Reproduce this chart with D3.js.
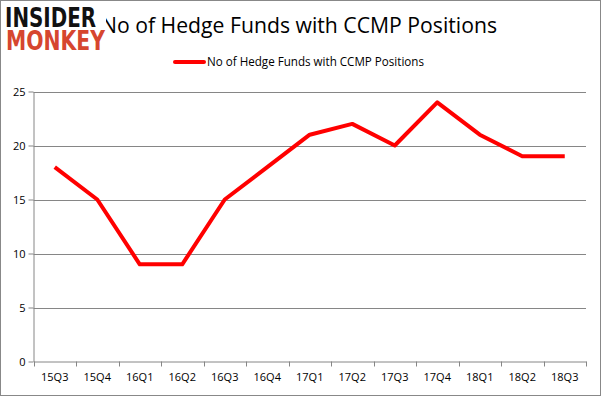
<!DOCTYPE html>
<meta charset='utf-8'>
<style>
    body { margin: 0; background: #fff; }
    text { font-family: 'Open Sans', 'DejaVu Sans', sans-serif; fill: #000; }
    .grid line { stroke: #868686; stroke-width: 1; }
    .axis path, .axis line { stroke: #868686; }
</style>

<svg width="601" height="396"></svg>
<script src="https://d3js.org/d3.v7.min.js"></script>

<script>

var quarters = ['15Q3', '15Q4', '16Q1', '16Q2', '16Q3', '16Q4', '17Q1',
                '17Q2', '17Q3', '17Q4', '18Q1', '18Q2', '18Q3'];
var funds = [18, 15, 9, 9, 15, 18, 21, 22, 20, 24, 21, 19, 19];
var yTicks = [0, 5, 10, 15, 20, 25];
var seriesName = 'No of Hedge Funds with CCMP Positions';

var svg = d3.select('svg'),
    width = +svg.attr('width'),
    height = +svg.attr('height');

var plotLeft = 33.5, plotRight = 586, plotTop = 91.5, plotBottom = 361.5;

var x = d3.scaleBand()
    .domain(quarters)
    .range([plotLeft, plotRight]);

var y = d3.scaleLinear()
    .domain([0, 25])
    .range([plotBottom, plotTop]);

// outer frame
svg.append('rect')
    .attr('x', 0.5).attr('y', 0.5)
    .attr('width', width - 1).attr('height', height - 1)
    .attr('fill', '#fff')
    .attr('stroke', '#888');

// gridlines
svg.append('g')
    .attr('class', 'grid')
  .selectAll('line')
  .data(yTicks.filter(function(d) { return d > 0; }))
  .enter().append('line')
    .attr('x1', plotLeft).attr('x2', plotRight)
    .attr('y1', function(d) { return Math.round(y(d)) + 0.5; })
    .attr('y2', function(d) { return Math.round(y(d)) + 0.5; });

// y axis
var yAxis = svg.append('g')
    .attr('class', 'axis')
    .attr('transform', 'translate(' + plotLeft + ',0)')
    .call(d3.axisLeft(y).tickValues(yTicks).tickSize(5).tickSizeOuter(0));
yAxis.selectAll('text').attr('x', -8).style('font-size', '11px');

// x axis
var xAxis = svg.append('g')
    .attr('class', 'axis')
    .attr('transform', 'translate(0,' + plotBottom + ')')
    .call(d3.axisBottom(x).tickSize(0).tickSizeOuter(0));
xAxis.selectAll('text').attr('y', 12).style('font-size', '11px');
xAxis.selectAll('.boundary')
    .data(quarters.concat(['end']))
    .enter().append('line')
    .attr('class', 'boundary')
    .attr('stroke', '#868686')
    .attr('x1', function(d, i) { return Math.round(plotLeft + i * x.step()) + 0.5; })
    .attr('x2', function(d, i) { return Math.round(plotLeft + i * x.step()) + 0.5; })
    .attr('y1', 0).attr('y2', 5);

// series line
var line = d3.line()
    .x(function(d, i) { return x(quarters[i]) + x.bandwidth() / 2; })
    .y(function(d) { return y(d); });

svg.append('path')
    .datum(funds)
    .attr('fill', 'none')
    .attr('stroke', '#ff0000')
    .attr('stroke-width', 4)
    .attr('stroke-linejoin', 'round')
    .attr('d', line);

// title
svg.append('text')
    .attr('x', 101).attr('y', 33)
    .attr('textLength', 396)
    .attr('lengthAdjust', 'spacingAndGlyphs')
    .style('font-size', '21px')
    .text(seriesName);

// legend
svg.append('line')
    .attr('x1', 175).attr('x2', 204)
    .attr('y1', 62).attr('y2', 62)
    .attr('stroke', '#ff0000')
    .attr('stroke-width', 4)
    .attr('stroke-linecap', 'round');
svg.append('text')
    .attr('x', 207).attr('y', 66)
    .attr('textLength', 217)
    .attr('lengthAdjust', 'spacingAndGlyphs')
    .style('font-size', '12px')
    .text(seriesName);

// logo
var logo = svg.append('g');
logo.append('rect')
    .attr('x', 2).attr('y', 2)
    .attr('width', 104).attr('height', 50)
    .attr('fill', '#fff');
logo.append('text')
    .attr('x', 5).attr('y', 27)
    .attr('textLength', 91)
    .attr('lengthAdjust', 'spacingAndGlyphs')
    .style('font-family', "'DejaVu Sans', sans-serif")
    .style('font-weight', 'bold')
    .style('font-size', '26px')
    .style('fill', '#111')
    .text('INSIDER');
logo.append('text')
    .attr('x', 6).attr('y', 50)
    .attr('textLength', 99)
    .attr('lengthAdjust', 'spacingAndGlyphs')
    .style('font-family', "'DejaVu Sans', sans-serif")
    .style('font-weight', 'bold')
    .style('font-size', '26px')
    .style('fill', '#d6462f')
    .text('MONKEY');

</script>
